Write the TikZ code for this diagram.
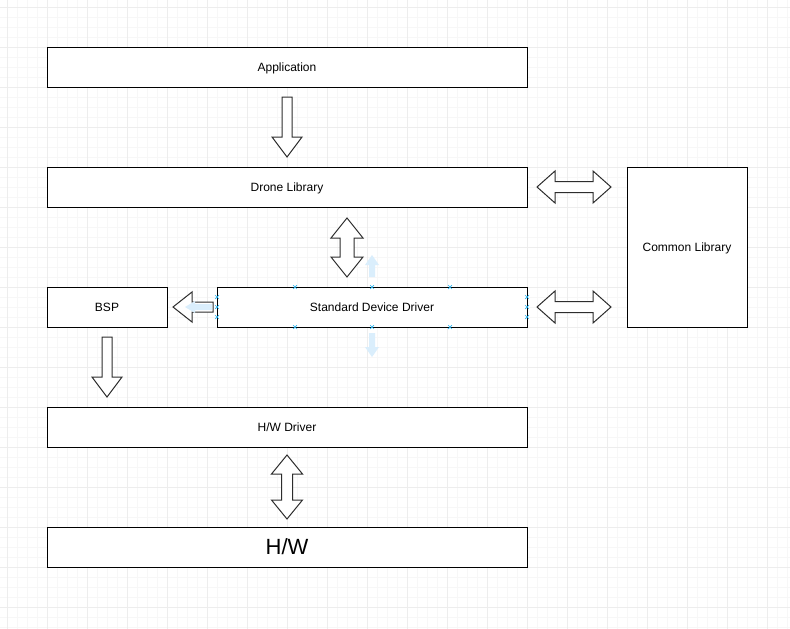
\documentclass[tikz,border=0pt]{standalone}
\usepackage{fontspec}
\setmainfont{Liberation Sans}
\usetikzlibrary{calc,positioning}

\definecolor{gridminor}{RGB}{247,247,247}
\definecolor{gridmajor}{RGB}{237,237,237}
\definecolor{hintblue}{RGB}{218,238,252}
\definecolor{handleblue}{RGB}{41,182,242}
\definecolor{arrowgray}{RGB}{45,45,45}

\tikzset{
  box/.style={draw, line width=1pt, fill=white, minimum height=40pt, inner sep=0pt, outer sep=0pt, text depth=0pt, font=\fontsize{12}{14}\selectfont},
  blockarrow/.style={draw=arrowgray, fill=white, line width=1pt, line join=miter},
  hintarrow/.style={fill=hintblue},
  pics/onearrow/.style args={#1/#2/#3/#4}{code={
    \path[pic actions] (0,-#4) -- ({#1-#2},-#4) -- ({#1-#2},-#3) -- (#1,0)
      -- ({#1-#2},#3) -- ({#1-#2},#4) -- (0,#4) -- cycle;}},
  pics/twoarrow/.style args={#1/#2/#3/#4}{code={
    \path[pic actions] (0,0) -- (#2,#3) -- (#2,#4) -- ({#1-#2},#4) -- ({#1-#2},#3) -- (#1,0)
      -- ({#1-#2},-#3) -- ({#1-#2},-#4) -- (#2,-#4) -- (#2,-#3) -- cycle;}},
  pics/handle/.style={code={
    \draw[handleblue, line width=0.7pt] (-1.8,-1.8) -- (1.8,1.8) (-1.8,1.8) -- (1.8,-1.8);}}
}

\begin{document}
\begin{tikzpicture}[x=1pt,y=1pt]

  \fill[white] (0,0) rectangle (790,-629);
  \useasboundingbox (0,0) rectangle (790,-629);
  \begin{scope}[shift={(7,-7)}]
    \draw[gridminor, line width=1pt, step=10pt] (-7,7) grid (783,-622);
    \draw[gridmajor, line width=1pt, step=40pt] (-7,7) grid (783,-622);
  \end{scope}

  % layers
  \node[box, minimum width=480pt] (app) at (287,-67) {Application};
  \node[box, minimum width=480pt, below=80pt of app] (drone) {Drone Library};
  \node[box, minimum width=120pt, minimum height=160pt, right=100pt of drone.north east, anchor=north west] (common) {Common Library};
  \node[box, minimum width=310pt, below=80pt of drone.south east, anchor=north east] (sdd) {Standard Device Driver};
  \node[box, minimum width=120pt, below=80pt of drone.south west, anchor=north west] (bsp) {BSP};
  \node[box, minimum width=480pt, below=200pt of drone] (hwdrv) {H/W Driver};
  \node[box, minimum width=480pt, below=80pt of hwdrv, font=\fontsize{22}{26}\selectfont] (hw) {H/W};

  % block arrows
  \pic[blockarrow, rotate=-90] at ($(app.south)+(0,-10)$) {onearrow=60/20/15/5};
  \pic[blockarrow, rotate=-90] at ($(drone.south)+(60,-11)$) {twoarrow=59/20/16/7};
  \pic[blockarrow] at ($(drone.east)+(10,0)$) {twoarrow=74/18/16/5.5};
  \pic[blockarrow] at ($(sdd.east)+(10,0)$) {twoarrow=74/18/16/5.5};
  \pic[blockarrow, rotate=180] at ($(sdd.west)+(-4,0)$) {onearrow=40/19/15/5};
  \pic[blockarrow, rotate=-90] at ($(bsp.south)+(0,-10)$) {onearrow=60/20/15/5};
  \pic[blockarrow, rotate=-90] at ($(hwdrv.south)+(0,-8)$) {twoarrow=64/19/15.5/5.5};

  % hover hints
  \pic[hintarrow, rotate=90] at ($(sdd.north)+(0,10)$) {onearrow=22/10/7/3};
  \pic[hintarrow, rotate=-90] at ($(sdd.south)+(0,-6)$) {onearrow=24/10/7/3};
  \pic[hintarrow, rotate=180] at ($(sdd.west)+(-5,0)$) {onearrow=27/10/6/3};
  \foreach \dx in {78,155,233} {
    \pic at ($(sdd.north west)+(\dx,0)$) {handle};
    \pic at ($(sdd.south west)+(\dx,0)$) {handle};
  }
  \foreach \dy in {-10,0,10} {
    \pic at ($(sdd.west)+(0,\dy)$) {handle};
    \pic at ($(sdd.east)+(0,\dy)$) {handle};
  }

\end{tikzpicture}
\end{document}
